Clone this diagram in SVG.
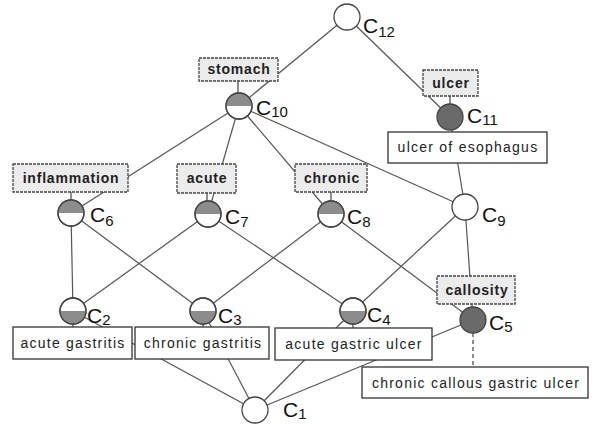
<svg xmlns="http://www.w3.org/2000/svg" width="594" height="424" viewBox="0 0 594 424">
  <style>
    .edge { stroke: #555; stroke-width: 1.2; fill: none; }
    .tick { stroke: #444; stroke-width: 1.2; fill: none; }
    .dash { stroke: #444; stroke-width: 1.2; fill: none; stroke-dasharray: 4 3; }
    .ring { fill: #fff; stroke: #444; stroke-width: 1.3; }
    .half { fill: #8c8c8c; stroke: none; }
    .full { fill: #6a6a6a; stroke: #444; stroke-width: 1.3; }
    .attr rect { fill: #ececec; stroke: #444; stroke-width: 1.3; stroke-dasharray: 3 1; }
    .obj rect { fill: #fff; stroke: #333; stroke-width: 1.3; }
    .attr text { font-family: "Liberation Sans", Arial, sans-serif; font-size: 14px; font-weight: bold; fill: #222; text-anchor: middle; letter-spacing: 0.8px; }
    .obj text { font-family: "Liberation Sans", Arial, sans-serif; font-size: 14px; fill: #222; text-anchor: middle; letter-spacing: 1.25px; }
    .cl { font-family: "Liberation Sans", Arial, sans-serif; font-size: 21px; fill: #111; }
    .cl tspan { font-size: 15px; }
  </style>

  <!-- lattice connectors, drawn centre to centre beneath the labels -->
  <g id="connectors">
    <line class="edge" x1="347" y1="17" x2="239" y2="106"/>
    <line class="edge" x1="347" y1="17" x2="450" y2="117"/>
    <line class="edge" x1="239" y1="106" x2="71" y2="213"/>
    <line class="edge" x1="239" y1="106" x2="208" y2="214"/>
    <line class="edge" x1="239" y1="106" x2="331" y2="214"/>
    <line class="edge" x1="239" y1="106" x2="465" y2="207"/>
    <line class="edge" x1="450" y1="117" x2="465" y2="207"/>
    <line class="edge" x1="71" y1="213" x2="73" y2="311"/>
    <line class="edge" x1="71" y1="213" x2="203" y2="311"/>
    <line class="edge" x1="208" y1="214" x2="73" y2="311"/>
    <line class="edge" x1="208" y1="214" x2="353" y2="311"/>
    <line class="edge" x1="331" y1="214" x2="203" y2="311"/>
    <line class="edge" x1="331" y1="214" x2="473" y2="320"/>
    <line class="edge" x1="465" y1="207" x2="353" y2="311"/>
    <line class="edge" x1="465" y1="207" x2="473" y2="320"/>
    <line class="edge" x1="73" y1="311" x2="255" y2="410"/>
    <line class="edge" x1="203" y1="311" x2="255" y2="410"/>
    <line class="edge" x1="353" y1="311" x2="255" y2="410"/>
    <line class="edge" x1="473" y1="320" x2="255" y2="410"/>
    <!-- label ticks -->
    <line class="tick" x1="238" y1="80" x2="238" y2="93"/>
    <line class="tick" x1="450" y1="96" x2="450" y2="104"/>
    <line class="tick" x1="71" y1="192" x2="71" y2="200"/>
    <line class="tick" x1="207" y1="193" x2="207" y2="201"/>
    <line class="tick" x1="331" y1="192" x2="331" y2="201"/>
    <line class="tick" x1="73" y1="324" x2="73" y2="327"/>
    <line class="tick" x1="203" y1="324" x2="203" y2="327"/>
    <line class="tick" x1="353" y1="324" x2="353" y2="328"/>
    <line class="dash" x1="473" y1="333" x2="473" y2="367"/>
  </g>

  <!-- attribute labels -->
  <g id="lbl-stomach" class="attr"><rect x="199" y="58" width="79" height="23"/><text x="239" y="74">stomach</text></g>
  <g id="lbl-ulcer" class="attr"><rect x="423" y="70" width="55" height="26"/><text x="451" y="88">ulcer</text></g>
  <g id="lbl-inflammation" class="attr"><rect x="13" y="164" width="115" height="28"/><text x="71" y="183">inflammation</text></g>
  <g id="lbl-acute" class="attr"><rect x="177" y="164" width="59" height="29"/><text x="207" y="183">acute</text></g>
  <g id="lbl-chronic" class="attr"><rect x="295" y="164" width="72" height="28"/><text x="332" y="183">chronic</text></g>
  <g id="lbl-callosity" class="attr"><rect x="437" y="276" width="78" height="28"/><text x="477" y="295">callosity</text></g>

  <!-- object labels -->
  <g id="lbl-ulcer-of-esophagus" class="obj"><rect x="388" y="132" width="159" height="31"/><text x="468" y="152">ulcer of esophagus</text></g>
  <g id="lbl-acute-gastritis" class="obj"><rect x="13" y="327" width="119" height="32"/><text x="73" y="348">acute gastritis</text></g>
  <g id="lbl-chronic-gastritis" class="obj"><rect x="135" y="327" width="134" height="32"/><text x="203" y="348">chronic gastritis</text></g>
  <g id="lbl-acute-gastric-ulcer" class="obj"><rect x="275" y="328" width="157" height="32"/><text x="354" y="349">acute gastric ulcer</text></g>
  <g id="lbl-chronic-callous-gastric-ulcer" class="obj"><rect x="362" y="367" width="226" height="31"/><text x="476" y="388">chronic callous gastric ulcer</text></g>

  <!-- concepts -->
  <g id="c12"><circle class="ring" cx="347" cy="17" r="13"/><text class="cl" x="363" y="33">C<tspan dy="4">12</tspan></text></g>
  <g id="c10"><circle class="ring" cx="239" cy="106" r="13"/><path class="half" d="M226 106 A13 13 0 0 1 252 106 Z"/><circle cx="239" cy="106" r="13" fill="none" stroke="#444" stroke-width="1.3"/><text class="cl" x="256" y="115">C<tspan dy="2">10</tspan></text></g>
  <g id="c11"><circle class="full" cx="450" cy="117" r="13"/><text class="cl" x="467" y="123">C<tspan dy="2">11</tspan></text></g>
  <g id="c9"><circle class="ring" cx="465" cy="207" r="13"/><text class="cl" x="482" y="222">C<tspan dy="4">9</tspan></text></g>
  <g id="c6"><circle class="ring" cx="71" cy="213" r="13"/><path class="half" d="M58 213 A13 13 0 0 1 84 213 Z"/><circle cx="71" cy="213" r="13" fill="none" stroke="#444" stroke-width="1.3"/><text class="cl" x="90" y="222">C<tspan dy="4">6</tspan></text></g>
  <g id="c7"><circle class="ring" cx="208" cy="214" r="13"/><path class="half" d="M195 214 A13 13 0 0 1 221 214 Z"/><circle cx="208" cy="214" r="13" fill="none" stroke="#444" stroke-width="1.3"/><text class="cl" x="225" y="224">C<tspan dy="3">7</tspan></text></g>
  <g id="c8"><circle class="ring" cx="331" cy="214" r="13"/><path class="half" d="M318 214 A13 13 0 0 1 344 214 Z"/><circle cx="331" cy="214" r="13" fill="none" stroke="#444" stroke-width="1.3"/><text class="cl" x="347" y="224">C<tspan dy="3">8</tspan></text></g>
  <g id="c2"><circle class="ring" cx="73" cy="311" r="13"/><path class="half" d="M60 311 A13 13 0 0 0 86 311 Z"/><circle cx="73" cy="311" r="13" fill="none" stroke="#444" stroke-width="1.3"/><text class="cl" x="87" y="323">C<tspan dy="2">2</tspan></text></g>
  <g id="c3"><circle class="ring" cx="203" cy="311" r="13"/><path class="half" d="M190 311 A13 13 0 0 0 216 311 Z"/><circle cx="203" cy="311" r="13" fill="none" stroke="#444" stroke-width="1.3"/><text class="cl" x="218" y="323">C<tspan dy="2">3</tspan></text></g>
  <g id="c4"><circle class="ring" cx="353" cy="311" r="13"/><path class="half" d="M340 311 A13 13 0 0 0 366 311 Z"/><circle cx="353" cy="311" r="13" fill="none" stroke="#444" stroke-width="1.3"/><text class="cl" x="367" y="322">C<tspan dy="3">4</tspan></text></g>
  <g id="c5"><circle class="full" cx="473" cy="320" r="13"/><text class="cl" x="489" y="330">C<tspan dy="2">5</tspan></text></g>
  <g id="c1"><circle class="ring" cx="255" cy="410" r="13"/><text class="cl" x="283" y="417">C<tspan dy="2">1</tspan></text></g>
</svg>
